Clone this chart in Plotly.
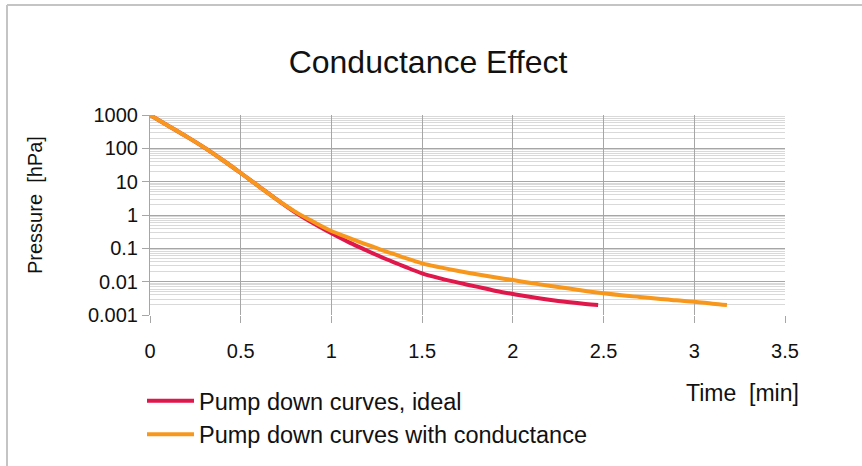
import plotly.graph_objects as go

# ---- data ----
time_ideal = [0, 0.1, 0.2, 0.3, 0.4, 0.5, 0.6, 0.7, 0.8, 0.9, 1.0, 1.1, 1.2, 1.3, 1.4,
              1.5, 1.6, 1.7, 1.8, 1.9, 2.0, 2.1, 2.2, 2.3, 2.4, 2.47]
pressure_ideal = [1000, 479, 229, 105, 44.7, 18.2, 7.24, 2.88, 1.20, 0.562, 0.282, 0.148,
                  0.0832, 0.0479, 0.0288, 0.0178, 0.0126, 0.00933, 0.00708, 0.00537,
                  0.00427, 0.00347, 0.00288, 0.00245, 0.00214, 0.00200]

time_cond = [0, 0.1, 0.2, 0.3, 0.4, 0.5, 0.6, 0.7, 0.8, 0.9, 1.0, 1.1, 1.2, 1.3, 1.4,
             1.5, 1.6, 1.7, 1.8, 1.9, 2.0, 2.1, 2.2, 2.3, 2.4, 2.5, 2.6, 2.7, 2.8,
             2.9, 3.0, 3.1, 3.18]
pressure_cond = [1000, 479, 229, 105, 44.7, 18.2, 7.24, 2.88, 1.26, 0.631, 0.331, 0.204,
                 0.126, 0.0813, 0.0525, 0.0355, 0.0269, 0.0209, 0.0166, 0.0135, 0.0112,
                 0.00912, 0.00759, 0.00631, 0.00525, 0.00447, 0.00389, 0.00347,
                 0.00309, 0.00275, 0.00251, 0.00219, 0.00200]

x_tick_vals = [0, 0.5, 1, 1.5, 2, 2.5, 3, 3.5]
x_tick_text = ["0", "0.5", "1", "1.5", "2", "2.5", "3", "3.5"]
y_tick_vals = [1000, 100, 10, 1, 0.1, 0.01, 0.001]
y_tick_text = ["1000", "100", "10", "1", "0.1", "0.01", "0.001"]

series_names = ["Pump down curves, ideal", "Pump down curves with conductance"]
title_text = "Conductance Effect"
x_title = "Time  [min]"
y_title = "Pressure  [hPa]"

FONT = "Liberation Sans, Arial, sans-serif"
RED = "#E0174A"
ORANGE = "#F7981D"
MAJOR = "#A6A6A6"
MINOR = "#D9D9D9"

W, H = 862, 466
L, R, T, B = 150, 77, 115, 151
PW, PH = W - L - R, H - T - B

def px_x(px):
    return (px - L) / PW

def px_y(py):
    return (H - B - py) / PH

fig = go.Figure()
fig.add_trace(go.Scatter(x=time_ideal, y=pressure_ideal, mode="lines", name=series_names[0],
                         line=dict(color=RED, width=4, shape="spline")))
fig.add_trace(go.Scatter(x=time_cond, y=pressure_cond, mode="lines", name=series_names[1],
                         line=dict(color=ORANGE, width=4, shape="spline")))

fig.update_layout(
    width=W, height=H,
    margin=dict(l=L, r=R, t=T, b=B, autoexpand=False),
    paper_bgcolor="white", plot_bgcolor="white",
    font=dict(family=FONT, color="#111111"),
    title=dict(text=title_text, x=(428 / W), xanchor="center",
               y=1 - 62 / H, yanchor="middle", yref="container",
               font=dict(size=32, family=FONT, color="#111111")),
    showlegend=True,
    legend=dict(x=px_x(142), xanchor="left", y=px_y(379), yanchor="top",
                font=dict(size=23.5, family=FONT, color="#111111"),
                bgcolor="rgba(0,0,0,0)", itemwidth=47, tracegroupgap=0),
    xaxis=dict(range=[0, 3.5], tickmode="array", tickvals=x_tick_vals, ticktext=x_tick_text,
               showgrid=True, gridcolor=MAJOR, gridwidth=1, zeroline=False,
               showline=False, ticks="outside", ticklen=7, tickcolor=MAJOR,
               tickfont=dict(size=20, family=FONT, color="#111111"),
               ticklabelstandoff=11, automargin=False),
    yaxis=dict(type="log", range=[-3, 3], tickmode="array", tickvals=y_tick_vals,
               ticktext=y_tick_text, showgrid=True, gridcolor=MAJOR, gridwidth=1,
               zeroline=False, showline=True, linecolor=MAJOR, linewidth=1,
               ticks="outside", ticklen=7, tickcolor=MAJOR, automargin=False,
               tickfont=dict(size=20, family=FONT, color="#111111"),
               minor=dict(dtick="D1", showgrid=True, gridcolor=MINOR, gridwidth=1, ticks="")),
)

fig.add_annotation(text=x_title, xref="paper", yref="paper", x=px_x(742), y=px_y(393),
                   xanchor="center", yanchor="middle", showarrow=False,
                   font=dict(size=23, family=FONT, color="#111111"))
fig.add_annotation(text=y_title, xref="paper", yref="paper", x=px_x(35), y=px_y(205),
                   xanchor="center", yanchor="middle", showarrow=False, textangle=-90,
                   font=dict(size=20, family=FONT, color="#111111"))

# outer frame (left and top edges)
fig.add_shape(type="line", xref="paper", yref="paper", x0=px_x(7), x1=px_x(7),
              y0=px_y(5), y1=px_y(480), line=dict(color="#C4C4C4", width=2))
fig.add_shape(type="line", xref="paper", yref="paper", x0=px_x(7), x1=px_x(880),
              y0=px_y(5), y1=px_y(5), line=dict(color="#C4C4C4", width=2))

fig.write_html("out.html", config={"displayModeBar": False},
               post_script="document.body.style.margin='0';")
